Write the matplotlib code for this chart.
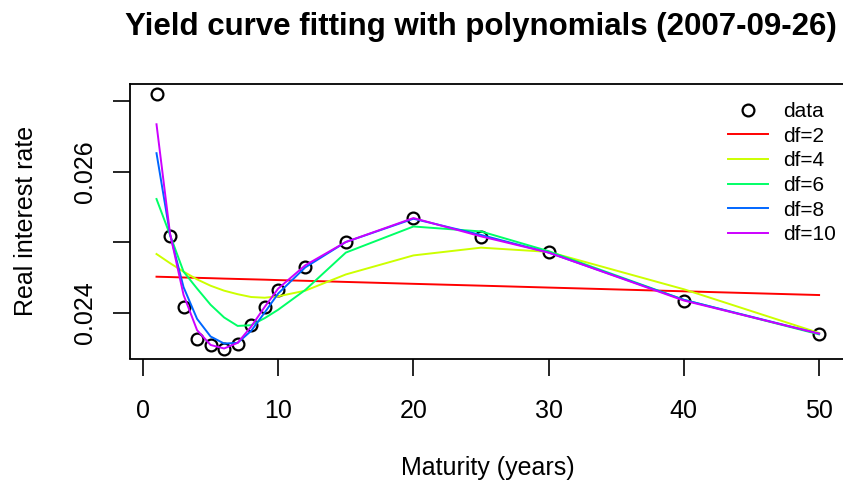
import matplotlib
matplotlib.use("Agg")
import matplotlib.pyplot as plt
from matplotlib.lines import Line2D

plt.rcParams['font.family'] = ['Liberation Sans', 'DejaVu Sans']

# maturities (years) and observed real rates
maturity = [1, 2, 3, 4, 5, 6, 7, 8, 9, 10, 12, 15, 20, 25, 30, 40, 50]
rate = [0.027095, 0.025085, 0.024074, 0.023620, 0.023535, 0.023487, 0.023549,
        0.023823, 0.024074, 0.024319, 0.024641, 0.025000, 0.025336, 0.025067,
        0.024855, 0.024167, 0.023695]

# fitted values, at the same maturities
fit_df2 = [0.024508, 0.024503, 0.024497, 0.024492, 0.024487, 0.024481, 0.024476,
           0.024471, 0.024466, 0.024460, 0.024450, 0.024434, 0.024407, 0.024381,
           0.024354, 0.024301, 0.024248]
fit_df4 = [0.02483, 0.02470, 0.02458, 0.02447, 0.02438, 0.02431, 0.02426,
           0.02422, 0.02421, 0.02423, 0.02431, 0.02454, 0.02481, 0.02492,
           0.02486, 0.02433, 0.02371]
fit_df6 = [0.02561, 0.02510, 0.02458, 0.02434, 0.02411, 0.02393, 0.02381,
           0.02382, 0.02392, 0.02404, 0.02432, 0.02485, 0.02522, 0.02515,
           0.02487, 0.02418, 0.02369]
fit_df8 = [0.02626, 0.02511, 0.02436, 0.02391, 0.02366, 0.02356, 0.02357,
           0.02374, 0.02400, 0.02427, 0.02464, 0.02500, 0.02533, 0.02510,
           0.02485, 0.02418, 0.02370]
fit_df10 = [0.02667, 0.02512, 0.02425, 0.02375, 0.02354, 0.02349, 0.02357,
            0.02380, 0.02408, 0.02434, 0.02467, 0.02500, 0.02534, 0.02508,
            0.02485, 0.02417, 0.02370]

fits = [fit_df2, fit_df4, fit_df6, fit_df8, fit_df10]
labels = ["df=2", "df=4", "df=6", "df=8", "df=10"]
colors = ["#FF0000", "#CCFF00", "#00FF66", "#0066FF", "#CC00FF"]

W, H = 843, 484
fig = plt.figure(figsize=(W / 100, H / 100), dpi=100)
ax = fig.add_axes([130 / W, 1 - 358.5 / H, (845.6 - 130) / W, (358.5 - 84) / H])

ax.plot(maturity, rate, 'o', mfc='none', mec='black', ms=8.5, mew=1.6, zorder=2)
for f, c in zip(fits, colors):
    ax.plot(maturity, f, color=c, lw=1.4, zorder=3)

ax.set_xlim(-0.96, 51.96)
ax.set_ylim(0.023348, 0.027241)
ax.set_xticks([0, 10, 20, 30, 40, 50])
ax.set_yticks([0.024, 0.025, 0.026, 0.027])
ax.set_yticklabels(["0.024", "", "0.026", ""], rotation=90, va='center')
ax.tick_params(length=12, width=1.2, labelsize=18, pad=17)
ax.tick_params(axis='y', pad=12)
for s in ax.spines.values():
    s.set_linewidth(1.3)

ax.set_xlabel("Maturity (years)", fontsize=18, labelpad=24)
ax.set_ylabel("Real interest rate", fontsize=18, labelpad=25)
fig.text(481 / W, 1 - 27 / H, "Yield curve fitting with polynomials (2007-09-26)",
         ha='center', va='center', fontsize=22.5, fontweight='bold')

handles = [Line2D([], [], ls='none', marker='o', mfc='none', mec='black', ms=8.5, mew=1.6)]
handles += [Line2D([], [], color=c, lw=1.4) for c in colors]
ax.legend(handles, ["data"] + labels, loc='upper left', frameon=False,
          bbox_to_anchor=(728 / W, 1 - 102 / H), bbox_transform=fig.transFigure,
          fontsize=15, handlelength=1.9, handletextpad=0.75, labelspacing=0.27,
          borderpad=0, borderaxespad=0)

fig.savefig("out.png", dpi=100)
